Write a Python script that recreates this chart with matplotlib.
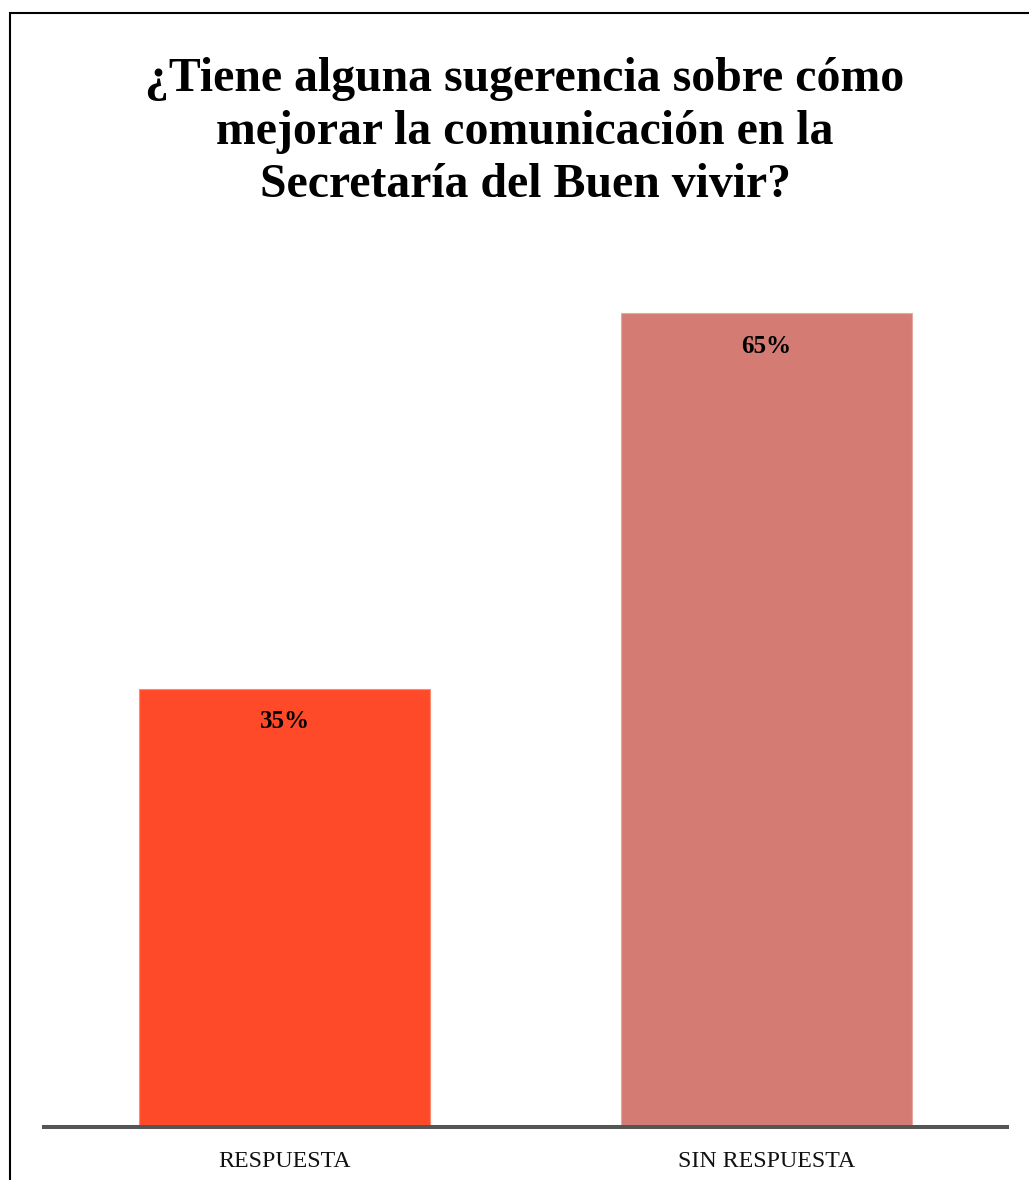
import matplotlib
matplotlib.use("Agg")
import matplotlib.pyplot as plt
from matplotlib.patches import Rectangle

categories = ["RESPUESTA", "SIN RESPUESTA"]
percentages = [35, 65]
bar_colors = ["#FF4A2A", "#D47C74"]
edge_colors = ["#FF8A70", "#E6A7A0"]
title_lines = [
    "¿Tiene alguna sugerencia sobre cómo",
    "mejorar la comunicación en la",
    "Secretaría del Buen vivir?",
]

plt.rcParams["font.family"] = ["Liberation Serif", "DejaVu Serif"]

W, H = 1029, 1180
fig = plt.figure(figsize=(W / 100, H / 100), dpi=100)
fig.patch.set_facecolor("white")

# frame around the chart area
fig.patches.append(Rectangle((9.5 / W, -0.1), 1.2, 1.1 - 13.5 / H,
                             transform=fig.transFigure, fill=False,
                             edgecolor="black", linewidth=1.5, zorder=0))

ax = fig.add_axes([44 / W, 53 / H, 963 / W, 877 / H])
x = range(len(categories))
ax.bar(x, percentages, width=0.605, color=bar_colors,
       edgecolor=edge_colors, linewidth=0.8, zorder=2)
ax.set_xlim(-0.5, 1.5)
ax.set_ylim(0, 70)

for xi, v in zip(x, percentages):
    ax.annotate(f"{v}%", (xi, v), xytext=(0, -40 * 0.72),
                textcoords="offset points", ha="center", va="baseline",
                fontsize=18, fontweight="bold", color="black", zorder=3)

ax.set_xticks(list(x))
ax.set_xticklabels(categories, fontsize=17.2, color="#111111")
ax.tick_params(axis="x", length=0, pad=17.5)
ax.set_yticks([])
for side in ("top", "left", "right"):
    ax.spines[side].set_visible(False)
ax.spines["bottom"].set_color("#555555")
ax.spines["bottom"].set_linewidth(2.9)
ax.spines["bottom"].set_zorder(4)
ax.set_facecolor("none")

fig.text(525 / W, 1 - 132 / H, "\n".join(title_lines), ha="center",
         va="center", fontsize=34.4, fontweight="bold", linespacing=1.26)

fig.savefig("out.png", dpi=100, facecolor="white")
